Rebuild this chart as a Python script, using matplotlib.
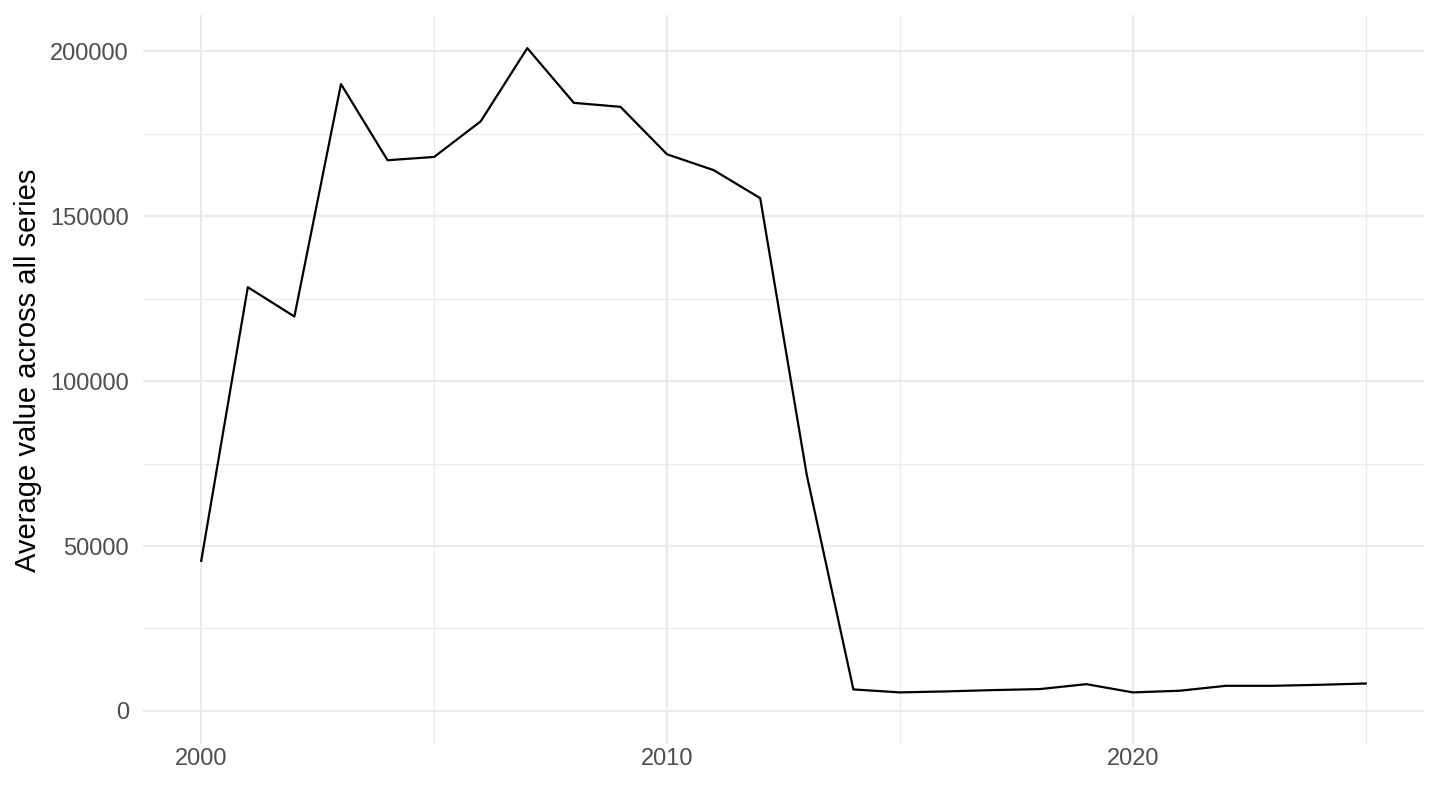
import matplotlib
matplotlib.use("Agg")
import matplotlib.pyplot as plt
from matplotlib.ticker import FixedLocator

years = list(range(2000, 2026))
values = [45500, 128500, 119600, 190100, 167000, 168000, 178800, 201000, 184400, 183200,
          168800, 164000, 155500, 71500, 6500, 5600, 5900, 6300, 6600, 8100,
          5600, 6100, 7600, 7600, 7900, 8300]
x_major = [2000, 2010, 2020]
x_minor = [2005, 2015, 2025]
y_major = [0, 50000, 100000, 150000, 200000]
y_minor = [25000, 75000, 125000, 175000]
y_label = "Average value across all series"

plt.rcParams['font.family'] = ['Liberation Sans', 'DejaVu Sans']
fig = plt.figure(figsize=(14.4, 8.1), dpi=100)
ax = fig.add_axes([143/1440, (810-744)/810, (1424-143)/1440, (744-15)/810])

ax.plot(years, values, color="black", linewidth=1.6, zorder=3)

xr = max(years) - min(years)
ax.set_xlim(min(years) - 0.05*xr, max(years) + 0.05*xr)
yr = max(values) - 0
ax.set_ylim(0 - 0.05*yr, max(values) + 0.05*yr)

ax.xaxis.set_major_locator(FixedLocator(x_major))
ax.xaxis.set_minor_locator(FixedLocator(x_minor))
ax.yaxis.set_major_locator(FixedLocator(y_major))
ax.yaxis.set_minor_locator(FixedLocator(y_minor))
ax.set_yticklabels([str(v) for v in y_major])
ax.set_xticklabels([str(v) for v in x_major])

ax.grid(which="major", color="#EBEBEB", linewidth=1.6)
ax.grid(which="minor", color="#EBEBEB", linewidth=0.8)
ax.set_axisbelow(True)
for s in ax.spines.values():
    s.set_visible(False)
ax.tick_params(which="both", length=0)
ax.tick_params(axis="y", labelsize=17, labelcolor="#4D4D4D", pad=10)
ax.tick_params(axis="x", labelsize=17, labelcolor="#4D4D4D", pad=3)
fig.text(28/1440, 1 - 370/810, y_label, rotation=90, ha="center", va="center",
         fontsize=21, color="black")

fig.savefig("out.png", dpi=100)
